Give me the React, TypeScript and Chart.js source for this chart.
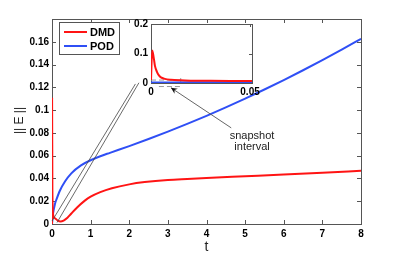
import React, { useEffect, useRef } from "react";
import { Chart, registerables } from "chart.js";
Chart.register(...registerables);

// ---------- data (main axes) ----------
const dmdT = [0, 0.002, 0.01, 0.03, 0.08, 0.15, 0.22, 0.3, 0.4, 0.5, 0.65, 0.85, 1.0, 1.25, 1.55, 2.0, 2.4, 3.0, 3.5, 4.0, 5.0, 6.0, 7.0, 8.0];
const dmdV = [0, 0.11, 0.03, 0.008, 0.005, 0.003, 0.0022, 0.003, 0.0055, 0.0092, 0.0145, 0.0205, 0.024, 0.028, 0.0314, 0.0348, 0.0368, 0.0387, 0.0396, 0.0404, 0.0419, 0.0434, 0.045, 0.0468];
const podT = [0, 0.03, 0.08, 0.12, 0.2, 0.34, 0.5, 0.75, 1.0, 1.25, 1.5, 2.0, 2.5, 3.0, 3.5, 4.0, 4.5, 5.0, 5.5, 6.0, 6.5, 7.0, 7.5, 8.0];
const podV = [0, 0.0097, 0.018, 0.022, 0.029, 0.0375, 0.0445, 0.0515, 0.056, 0.0595, 0.0625, 0.0684, 0.0746, 0.0811, 0.0879, 0.095, 0.1024, 0.1101, 0.1181, 0.1264, 0.135, 0.1439, 0.1531, 0.1626];
const xTicksMain = [0, 1, 2, 3, 4, 5, 6, 7, 8];
const yTicksMain = [0, 0.02, 0.04, 0.06, 0.08, 0.1, 0.12, 0.14, 0.16];
const seriesLabels = ["DMD", "POD"];
const seriesColors = ["#ff1414", "#2f4ff5"];

// ---------- data (inset) ----------
const insetDmdT = [0, 0.0006, 0.001, 0.0015, 0.002, 0.003, 0.004, 0.005, 0.007, 0.01, 0.015, 0.02, 0.03, 0.04, 0.051];
const insetDmdV = [0.01, 0.11, 0.1, 0.08, 0.058, 0.038, 0.026, 0.019, 0.014, 0.011, 0.009, 0.008, 0.0075, 0.0072, 0.007];
const insetPodT = [0, 0.01, 0.02, 0.03, 0.04, 0.051];
const insetPodV = [0.0015, 0.002, 0.0022, 0.0025, 0.0028, 0.003];
const insetXTicks = [0, 0.05];
const insetYTicks = [0, 0.1, 0.2];
const snapshotInside = [[0, 0.01], [0.015, 0.01]];
const snapshotBelow = [[0.004, -0.012], [0.015, -0.012]];

// ---------- annotations (main data coordinates) ----------
const zoomLineA = [[0, 0.0026], [2.16, 0.123]];
const zoomLineB = [[0.13, 0.0013], [2.25, 0.124]];
const arrowFrom = [4.64, 0.0844];
const arrowTo = [3.08, 0.1196];
const noteLines = ["snapshot", "interval"];
const notePos = [5.18, 0.0774];
const yTitle = "|| E ||";
const xTitle = "t";

const FONT = "'Liberation Sans', Arial, Helvetica, sans-serif";
const fmt = (v: number) => String(Number(Number(v).toFixed(3)));
const pts = (xs: number[], ys: number[]) => xs.map((x, i) => ({ x, y: ys[i] }));

function drawBoxAndTicks(chart: any, len: number) {
  const { ctx, chartArea: a, scales } = chart;
  ctx.save();
  ctx.strokeStyle = "#555";
  ctx.lineWidth = 1;
  ctx.strokeRect(Math.round(a.left) + 0.5, Math.round(a.top) + 0.5, Math.round(a.right - a.left), Math.round(a.bottom - a.top));
  ctx.beginPath();
  scales.x.ticks.forEach((t: any) => {
    const px = Math.round(scales.x.getPixelForValue(t.value)) + 0.5;
    ctx.moveTo(px, a.bottom); ctx.lineTo(px, a.bottom - len);
    ctx.moveTo(px, a.top); ctx.lineTo(px, a.top + len);
  });
  scales.y.ticks.forEach((t: any) => {
    const py = Math.round(scales.y.getPixelForValue(t.value)) + 0.5;
    ctx.moveTo(a.left, py); ctx.lineTo(a.left + len, py);
    ctx.moveTo(a.right, py); ctx.lineTo(a.right - len, py);
  });
  ctx.stroke();
  ctx.restore();
}

const mainPlugin = {
  id: "mainDecor",
  beforeDatasetsDraw(chart: any) {
    drawBoxAndTicks(chart, 4);
  },
  afterDraw(chart: any) {
    const { ctx, chartArea: a, scales } = chart;
    const X = (v: number) => scales.x.getPixelForValue(v);
    const Y = (v: number) => scales.y.getPixelForValue(v);
    ctx.save();
    // zoom lines
    ctx.strokeStyle = "#444";
    ctx.lineWidth = 0.8;
    [zoomLineA, zoomLineB].forEach((l) => {
      ctx.beginPath();
      ctx.moveTo(X(l[0][0]), Y(l[0][1]));
      ctx.lineTo(X(l[1][0]), Y(l[1][1]));
      ctx.stroke();
    });
    // arrow
    const x1 = X(arrowFrom[0]), y1 = Y(arrowFrom[1]);
    const x2 = X(arrowTo[0]), y2 = Y(arrowTo[1]);
    ctx.strokeStyle = "#555";
    ctx.lineWidth = 0.9;
    ctx.beginPath(); ctx.moveTo(x1, y1); ctx.lineTo(x2, y2); ctx.stroke();
    const ang = Math.atan2(y2 - y1, x2 - x1);
    const hl = 7, hw = 0.45;
    ctx.fillStyle = "#111";
    ctx.beginPath();
    ctx.moveTo(x2, y2);
    ctx.lineTo(x2 - hl * Math.cos(ang - hw), y2 - hl * Math.sin(ang - hw));
    ctx.lineTo(x2 - hl * 0.6 * Math.cos(ang), y2 - hl * 0.6 * Math.sin(ang));
    ctx.lineTo(x2 - hl * Math.cos(ang + hw), y2 - hl * Math.sin(ang + hw));
    ctx.closePath(); ctx.fill();
    // note text
    ctx.fillStyle = "#222";
    ctx.font = `11px ${FONT}`;
    ctx.textAlign = "center";
    ctx.textBaseline = "middle";
    noteLines.forEach((s, i) => ctx.fillText(s, X(notePos[0]), Y(notePos[1]) + i * 11));
    // legend
    const lx = a.left + 7, ly = a.top + 3, lw = 60, lh = 32;
    ctx.fillStyle = "#fff";
    ctx.fillRect(lx, ly, lw, lh);
    ctx.strokeStyle = "#555"; ctx.lineWidth = 1;
    ctx.strokeRect(lx + 0.5, ly + 0.5, lw, lh);
    ctx.font = `bold 11px ${FONT}`;
    ctx.textAlign = "left";
    seriesLabels.forEach((lab, i) => {
      const yy = ly + 10 + i * 14;
      ctx.strokeStyle = seriesColors[i]; ctx.lineWidth = 2;
      ctx.beginPath(); ctx.moveTo(lx + 5, yy); ctx.lineTo(lx + 28, yy); ctx.stroke();
      ctx.fillStyle = "#000";
      ctx.fillText(lab, lx + 31, yy + 0.5);
    });
    // axis titles
    ctx.fillStyle = "#222";
    ctx.font = `14px ${FONT}`;
    ctx.textAlign = "center";
    ctx.fillText(xTitle, (a.left + a.right) / 2, a.bottom + 23);
    ctx.save();
    ctx.translate(a.left - 32, (a.top + a.bottom) / 2 - 1);
    ctx.rotate(-Math.PI / 2);
    ctx.font = `12px ${FONT}`;
    ctx.fillText(yTitle, 0, 0);
    ctx.restore();
    ctx.restore();
  },
};

const insetPlugin = {
  id: "insetDecor",
  beforeDraw(chart: any) {
    const { ctx, chartArea: a } = chart;
    ctx.save();
    ctx.fillStyle = "#fff";
    ctx.fillRect(a.left, a.top, a.right - a.left, a.bottom - a.top);
    ctx.restore();
  },
  beforeDatasetsDraw(chart: any) {
    const { ctx, scales } = chart;
    const X = (v: number) => scales.x.getPixelForValue(v);
    const Y = (v: number) => scales.y.getPixelForValue(v);
    drawBoxAndTicks(chart, 3);
    ctx.save();
    ctx.strokeStyle = "#999";
    ctx.lineWidth = 1;
    ctx.setLineDash([5, 3]);
    [snapshotInside, snapshotBelow].forEach((l) => {
      ctx.beginPath();
      ctx.moveTo(X(l[0][0]), Y(l[0][1]));
      ctx.lineTo(X(l[1][0]), Y(l[1][1]));
      ctx.stroke();
    });
    ctx.setLineDash([]);
    const ex = X(snapshotInside[1][0]), ey = Y(snapshotInside[1][1]);
    ctx.beginPath(); ctx.moveTo(ex, ey - 2); ctx.lineTo(ex, ey + 2); ctx.stroke();
    ctx.restore();
  },
};

const tickFont = { family: FONT, size: 10, weight: "bold" as const };

export default function App() {
  const mainRef = useRef<HTMLCanvasElement>(null);
  const insetRef = useRef<HTMLCanvasElement>(null);

  useEffect(() => {
    document.body.style.margin = "0";
    const main = new Chart(mainRef.current!, {
      type: "line",
      data: {
        datasets: [
          { label: seriesLabels[0], data: pts(dmdT, dmdV), borderColor: seriesColors[0], borderWidth: 2, pointRadius: 0, cubicInterpolationMode: "monotone" },
          { label: seriesLabels[1], data: pts(podT, podV), borderColor: seriesColors[1], borderWidth: 2, pointRadius: 0, cubicInterpolationMode: "monotone" },
        ],
      },
      options: {
        responsive: false,
        animation: false,
        layout: { padding: { left: 0, top: 19, right: 38, bottom: 0 } },
        plugins: { legend: { display: false }, tooltip: { enabled: false } },
        scales: {
          x: {
            type: "linear", min: 0, max: 8,
            afterBuildTicks: (s: any) => { s.ticks = xTicksMain.map((v) => ({ value: v })); },
            afterFit: (s: any) => { s.height = 32; },
            grid: { display: false, drawTicks: false },
            border: { display: false },
            ticks: { font: tickFont, color: "#000", padding: 4, maxRotation: 0, autoSkip: false, callback: (v: any) => fmt(v) },
          },
          y: {
            type: "linear", min: 0, max: 0.18,
            afterBuildTicks: (s: any) => { s.ticks = yTicksMain.map((v) => ({ value: v })); },
            afterFit: (s: any) => { s.width = 52; },
            grid: { display: false, drawTicks: false },
            border: { display: false },
            ticks: { font: tickFont, color: "#000", padding: 3, autoSkip: false, callback: (v: any) => fmt(v) },
          },
        },
      },
      plugins: [mainPlugin],
    } as any);

    const inset = new Chart(insetRef.current!, {
      type: "line",
      data: {
        datasets: [
          { label: seriesLabels[0], data: pts(insetDmdT, insetDmdV), borderColor: seriesColors[0], borderWidth: 2, pointRadius: 0, cubicInterpolationMode: "monotone" },
          { label: seriesLabels[1], data: pts(insetPodT, insetPodV), borderColor: seriesColors[1], borderWidth: 2, pointRadius: 0 },
        ],
      },
      options: {
        responsive: false,
        animation: false,
        layout: { padding: { left: 131, top: 24, right: 147, bottom: 158 } },
        plugins: { legend: { display: false }, tooltip: { enabled: false } },
        scales: {
          x: {
            type: "linear", min: 0, max: 0.051,
            afterBuildTicks: (s: any) => { s.ticks = insetXTicks.map((v) => ({ value: v })); },
            afterFit: (s: any) => { s.height = 15; },
            grid: { display: false, drawTicks: false },
            border: { display: false },
            ticks: { font: tickFont, color: "#000", padding: 3, maxRotation: 0, autoSkip: false, callback: (v: any) => fmt(v) },
          },
          y: {
            type: "linear", min: 0, max: 0.2,
            afterBuildTicks: (s: any) => { s.ticks = insetYTicks.map((v) => ({ value: v })); },
            afterFit: (s: any) => { s.width = 20; },
            grid: { display: false, drawTicks: false },
            border: { display: false },
            ticks: { font: tickFont, color: "#000", padding: 3, autoSkip: false, callback: (v: any) => fmt(v) },
          },
        },
      },
      plugins: [insetPlugin],
    } as any);

    return () => { main.destroy(); inset.destroy(); };
  }, []);

  return (
    <div style={{ position: "fixed", left: 0, top: 0, width: 399, height: 256, background: "#fff" }}>
      <canvas ref={mainRef} width={399} height={256} style={{ position: "absolute", left: 0, top: 0 }} />
      <canvas ref={insetRef} width={399} height={256} style={{ position: "absolute", left: 0, top: 0 }} />
    </div>
  );
}
